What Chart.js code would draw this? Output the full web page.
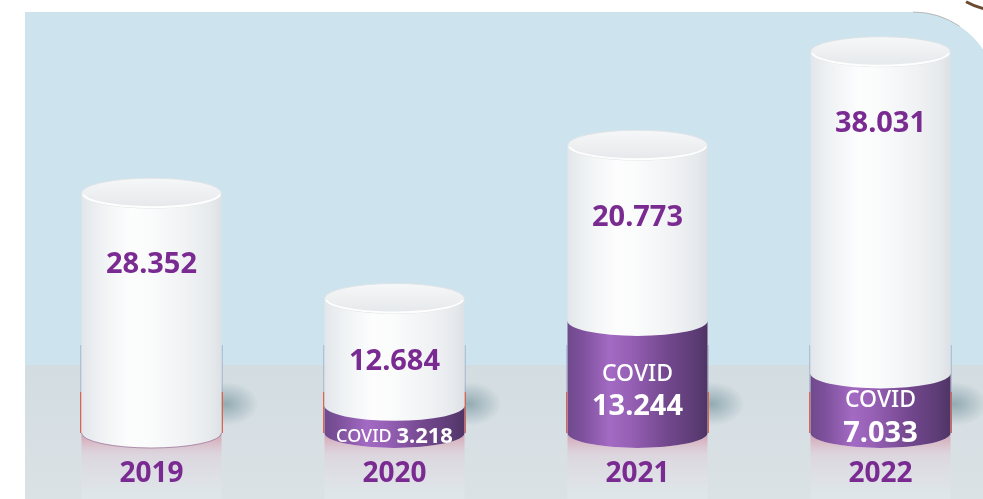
<!DOCTYPE html>
<html>
<head>
<meta charset="utf-8">
<script src="https://cdn.jsdelivr.net/npm/chart.js@4.4.0/dist/chart.umd.min.js"></script>
<style>
html, body { margin: 0; padding: 0; background: #fff; overflow: hidden; }
#wrap { width: 1002px; height: 499px; }
</style>
</head>
<body>
<div id="wrap"><canvas id="patientsChart" width="1002" height="499"></canvas></div>
<script>
// Patients per year - non-COVID (white) stacked over COVID (purple)
const years = ['2019', '2020', '2021', '2022'];
const otherPatients = [28352, 12684, 20773, 38031];
const covidPatients = [0, 3218, 13244, 7033];
const covidTag = 'COVID';

const purpleText = '#7a2b92';
const floorY = 365;
const capRy = 15;

function fmt(n) {
    return String(n).replace(/\B(?=(\d{3})+(?!\d))/g, '.');
}

// text centred on the cap height, not on the em box
function label(ctx, text, x, cy, size, weight, color, align) {
    ctx.font = weight + ' ' + size + 'px "Noto Sans", sans-serif';
    ctx.fillStyle = color;
    ctx.textAlign = align || 'center';
    ctx.textBaseline = 'alphabetic';
    ctx.fillText(text, x, cy + size * 0.357);
}

// light blue panel with a grey floor and a rounded top-right corner
const scenery = {
    id: 'scenery',
    beforeDraw(chart) {
        const ctx = chart.ctx;
        const L = 25, T = 12, R = 997, r = 84;
        ctx.save();
        ctx.fillStyle = '#fff';
        ctx.fillRect(0, 0, chart.width, chart.height);

        ctx.beginPath();
        ctx.moveTo(L, T);
        ctx.lineTo(R - r, T);
        ctx.arc(R - r, T + r, r, -Math.PI / 2, 0);
        ctx.lineTo(R, chart.height);
        ctx.lineTo(L, chart.height);
        ctx.closePath();
        ctx.save();
        ctx.clip();
        ctx.fillStyle = '#cde3ed';
        ctx.fillRect(L, T, R - L, floorY - T);
        const fg = ctx.createLinearGradient(0, floorY, 0, chart.height);
        fg.addColorStop(0, '#d2dce1');
        fg.addColorStop(1, '#dbe2e6');
        ctx.fillStyle = fg;
        ctx.fillRect(L, floorY, R - L, chart.height - floorY);
        ctx.restore();

        // thin rim on the corner
        ctx.beginPath();
        ctx.arc(R - r, T + r, r, -Math.PI / 2, -Math.PI / 3.2);
        ctx.strokeStyle = 'rgba(120,100,90,0.4)';
        ctx.lineWidth = 1;
        ctx.stroke();

        // brown arc peeking in at the top right
        ctx.beginPath();
        ctx.arc(1000, -60, 70.5, Math.PI * 0.45, Math.PI * 0.66);
        ctx.strokeStyle = '#6a4a30';
        ctx.lineWidth = 3;
        ctx.stroke();
        ctx.restore();
    }
};

// cylinders drawn from the bar elements the library lays out
const cylinders = {
    id: 'cylinders',
    afterDatasetsDraw(chart) {
        const ctx = chart.ctx;
        const covidMeta = chart.getDatasetMeta(0);
        const otherMeta = chart.getDatasetMeta(1);

        years.forEach((year, i) => {
            const covEl = covidMeta.data[i];
            const othEl = otherMeta.data[i];
            const cx = othEl.x;
            const w = othEl.width;
            const rx = w / 2;
            const x0 = cx - rx, x1 = cx + rx;
            const base = covEl.base;
            const covTop = othEl.base;
            const top = othEl.y;

            ctx.save();

            // soft shadow to the right
            ctx.save();
            ctx.translate(x1 + 4, 404);
            ctx.scale(1.5, 1);
            const sg = ctx.createRadialGradient(0, 0, 0, 0, 0, 22);
            sg.addColorStop(0, 'rgba(80,120,130,0.5)');
            sg.addColorStop(0.5, 'rgba(80,120,130,0.25)');
            sg.addColorStop(1, 'rgba(80,120,130,0)');
            ctx.fillStyle = sg;
            ctx.fillRect(-25, -25, 50, 50);
            ctx.restore();

            // reflection under the cylinder
            const rg = ctx.createLinearGradient(0, base, 0, base + 60);
            rg.addColorStop(0, 'rgba(210,120,140,0.6)');
            rg.addColorStop(0.35, 'rgba(226,200,214,0.45)');
            rg.addColorStop(1, 'rgba(232,238,241,0.25)');
            ctx.fillStyle = rg;
            ctx.fillRect(x0, base, w, 60);
            ctx.fillStyle = 'rgba(232,237,240,0.35)';
            ctx.fillRect(x0, base + 60, w, chart.height - base - 60);

            // edge lines
            ctx.fillStyle = 'rgba(150,165,195,0.55)';
            ctx.fillRect(x0 - 1.5, floorY - 20, 1.5, 392 - floorY + 20);
            ctx.fillRect(x1, floorY - 20, 1.5, 392 - floorY + 20);
            ctx.fillStyle = '#dc6352';
            ctx.fillRect(x0 - 1.5, 392, 1.5, base - 392);
            ctx.fillRect(x1, 392, 1.5, base - 392);

            // white body
            const wg = ctx.createLinearGradient(x0, 0, x1, 0);
            wg.addColorStop(0, '#e2e6ea');
            wg.addColorStop(0.12, '#eef1f3');
            wg.addColorStop(0.35, '#fdfdfe');
            wg.addColorStop(0.5, '#fafbfb');
            wg.addColorStop(0.75, '#f0f2f4');
            wg.addColorStop(0.92, '#e7eaed');
            wg.addColorStop(1, '#dce1e5');
            ctx.beginPath();
            ctx.moveTo(x0, top);
            ctx.lineTo(x0, base);
            ctx.ellipse(cx, base, rx, capRy, 0, Math.PI, 0, true);
            ctx.lineTo(x1, top);
            ctx.closePath();
            ctx.fillStyle = wg;
            ctx.fill();

            if (covidPatients[i] > 0) {
                // purple band
                const pg = ctx.createLinearGradient(x0, 0, x1, 0);
                pg.addColorStop(0, '#6f4a8c');
                pg.addColorStop(0.1, '#7d509b');
                pg.addColorStop(0.3, '#a36ac3');
                pg.addColorStop(0.45, '#9660b5');
                pg.addColorStop(0.7, '#74488f');
                pg.addColorStop(0.9, '#5e3d77');
                pg.addColorStop(1, '#4f3465');
                ctx.beginPath();
                ctx.moveTo(x0, covTop);
                ctx.ellipse(cx, covTop, rx, capRy, 0, Math.PI, 0, true);
                ctx.lineTo(x1, base);
                ctx.ellipse(cx, base, rx, capRy, 0, 0, Math.PI, false);
                ctx.closePath();
                ctx.fillStyle = pg;
                ctx.fill();
            } else {
                ctx.beginPath();
                ctx.ellipse(cx, base, rx, capRy, 0, 0, Math.PI, false);
                ctx.strokeStyle = 'rgba(150,110,150,0.7)';
                ctx.lineWidth = 1;
                ctx.stroke();
            }

            // top cap
            const cg = ctx.createLinearGradient(0, top - capRy, 0, top + capRy);
            cg.addColorStop(0, '#f6f7f8');
            cg.addColorStop(1, '#e5e8eb');
            ctx.beginPath();
            ctx.ellipse(cx, top, rx, capRy, 0, 0, Math.PI * 2);
            ctx.fillStyle = cg;
            ctx.fill();
            ctx.strokeStyle = 'rgba(222,226,230,0.9)';
            ctx.lineWidth = 1;
            ctx.stroke();
            ctx.beginPath();
            ctx.ellipse(cx, top, rx - 1, capRy - 1, 0, 0.1, Math.PI - 0.1);
            ctx.strokeStyle = 'rgba(255,255,255,0.95)';
            ctx.lineWidth = 2;
            ctx.stroke();

            // value in the white part
            const valueY = Math.min(top + 70, (top + capRy + covTop) / 2);
            label(ctx, fmt(otherPatients[i]), cx, valueY, 29, 'bold', purpleText);

            // COVID tag and value in the purple band
            if (covidPatients[i] > 0) {
                const visTop = covTop + capRy * 0.6;
                const visBot = base + capRy;
                if (visBot - visTop >= 56) {
                    const mid = (visTop + visBot) / 2;
                    label(ctx, covidTag, cx, mid - 16, 23, '500', '#fff');
                    label(ctx, fmt(covidPatients[i]), cx, mid + 16, 29, 'bold', '#fff');
                } else {
                    // band too short for two lines: one line, tag + value
                    const y = (covTop + capRy + visBot) / 2 + 1;
                    ctx.font = '500 18px "Noto Sans", sans-serif';
                    const tw = ctx.measureText(covidTag + ' ').width;
                    ctx.font = 'bold 22px "Noto Sans", sans-serif';
                    const nw = ctx.measureText(fmt(covidPatients[i])).width;
                    const sx = cx - (tw + nw) / 2;
                    label(ctx, covidTag + ' ', sx, y, 18, '500', '#fff', 'left');
                    label(ctx, fmt(covidPatients[i]), sx + tw, y, 22, 'bold', '#fff', 'left');
                }
            }

            // year under the cylinder
            label(ctx, year, cx, 472, 28, 'bold', purpleText);
            ctx.restore();
        });
    }
};

new Chart(document.getElementById('patientsChart'), {
    type: 'bar',
    data: {
        labels: years,
        datasets: [
            { label: 'COVID', data: covidPatients, backgroundColor: 'rgba(0,0,0,0)', borderWidth: 0, barThickness: 140 },
            { label: 'Other', data: otherPatients, backgroundColor: 'rgba(0,0,0,0)', borderWidth: 0, barThickness: 140 }
        ]
    },
    options: {
        responsive: false,
        animation: false,
        devicePixelRatio: 1,
        layout: { padding: { left: 30, right: 0, top: 10, bottom: 66 } },
        plugins: {
            legend: { display: false },
            tooltip: { enabled: false }
        },
        scales: {
            x: { display: false, stacked: true },
            y: { display: false, stacked: true, min: 0, max: 50000 }
        }
    },
    plugins: [scenery, cylinders]
});
</script>
</body>
</html>
